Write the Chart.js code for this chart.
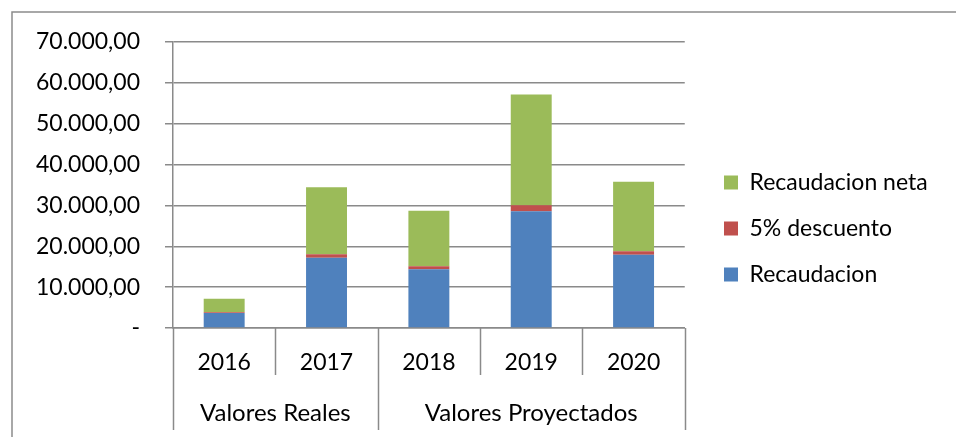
<!DOCTYPE html>
<html>
<head>
<meta charset="utf-8">
<script src="https://cdn.jsdelivr.net/npm/chart.js@4.4.0/dist/chart.umd.min.js"></script>
<style>
html,body{margin:0;padding:0;background:#fff;}
#wrap{position:relative;width:956px;height:437px;}
</style>
</head>
<body>
<div id="wrap"><canvas id="c" width="956" height="437"></canvas></div>
<script>
const years = ["2016", "2017", "2018", "2019", "2020"];
const groups = [
  { label: "Valores Reales", from: 0, to: 1 },
  { label: "Valores Proyectados", from: 2, to: 4 }
];
const recaudacion = [3700, 17200, 14400, 28600, 17900];
const descuento = [185, 860, 720, 1430, 895];
const recaudacionNeta = [3300, 16400, 13600, 27100, 17000];
const yTicks = [0, 10000, 20000, 30000, 40000, 50000, 60000, 70000];

const FONT = "Lato, 'Open Sans', sans-serif";
const GRID = "#8a8a8a";

function fmt(v) {
  if (v === 0) return "-";
  const s = Math.round(v).toString().replace(/\B(?=(\d{3})+(?!\d))/g, ".");
  return s + ",00";
}

const decorations = {
  id: "decorations",
  afterLayout(chart) {
    const lg = chart.legend;
    if (!lg) return;
    const w = lg.right - lg.left;
    lg.left = 701;
    lg.right = 701 + w;
    lg.top -= 11;
    lg.bottom -= 11;
  },
  beforeDraw(chart) {
    const ctx = chart.ctx;
    ctx.save();
    ctx.strokeStyle = "#8c8c8c";
    ctx.lineWidth = 1.5;
    ctx.beginPath();
    ctx.moveTo(12, 437);
    ctx.lineTo(12, 12);
    ctx.lineTo(956, 12);
    ctx.stroke();
    ctx.restore();
  },
  afterDraw(chart) {
    const ctx = chart.ctx;
    const area = chart.chartArea;
    const catW = (area.right - area.left) / years.length;
    ctx.save();
    ctx.strokeStyle = GRID;
    ctx.lineWidth = 1.5;
    const groupEdges = new Set();
    groups.forEach(g => { groupEdges.add(g.from); groupEdges.add(g.to + 1); });
    for (let i = 0; i <= years.length; i++) {
      const px = Math.round(area.left + i * catW) + 0.5;
      const len = groupEdges.has(i) ? 102 : 47;
      ctx.beginPath();
      ctx.moveTo(px, area.bottom);
      ctx.lineTo(px, area.bottom + len);
      ctx.stroke();
    }
    ctx.fillStyle = "#000";
    ctx.font = "24px " + FONT;
    ctx.textAlign = "center";
    ctx.textBaseline = "middle";
    groups.forEach(g => {
      const l = area.left + g.from * catW;
      const r = area.left + (g.to + 1) * catW;
      ctx.fillText(g.label, (l + r) / 2, area.bottom + 85);
    });
    ctx.restore();
  }
};

new Chart(document.getElementById("c"), {
  type: "bar",
  data: {
    labels: years,
    datasets: [
      { label: "Recaudacion", data: recaudacion, backgroundColor: "#4F81BD" },
      { label: "5% descuento", data: descuento, backgroundColor: "#C0504D" },
      { label: "Recaudacion neta", data: recaudacionNeta, backgroundColor: "#9BBB59" }
    ]
  },
  options: {
    responsive: false,
    animation: false,
    devicePixelRatio: 1,
    layout: { padding: { top: 42, right: 43, bottom: 0, left: 0 } },
    datasets: { bar: { barPercentage: 0.4, categoryPercentage: 1.0 } },
    plugins: {
      legend: {
        position: "right",
        reverse: true,
        labels: {
          font: { family: FONT, size: 23 },
          color: "#000",
          boxWidth: 14,
          boxHeight: 14,
          padding: 23
        }
      },
      tooltip: { enabled: false }
    },
    scales: {
      x: {
        stacked: true,
        grid: { display: false, drawTicks: false },
        border: { display: true, color: GRID, width: 1.5 },
        ticks: { font: { family: FONT, size: 23 }, color: "#000", padding: 21 },
        afterFit(s) { s.height = 109; }
      },
      y: {
        stacked: true,
        min: 0,
        max: 70000,
        afterBuildTicks(s) { s.ticks = yTicks.map(v => ({ value: v })); },
        grid: { color: GRID, lineWidth: 1.5, tickLength: 8 },
        border: { display: true, color: GRID, width: 1.5 },
        ticks: {
          font: { family: FONT, size: 23 },
          color: "#000",
          padding: 25,
          callback: v => fmt(v)
        },
        afterFit(s) { s.width = 173; }
      }
    }
  },
  plugins: [decorations]
});
</script>
</body>
</html>
